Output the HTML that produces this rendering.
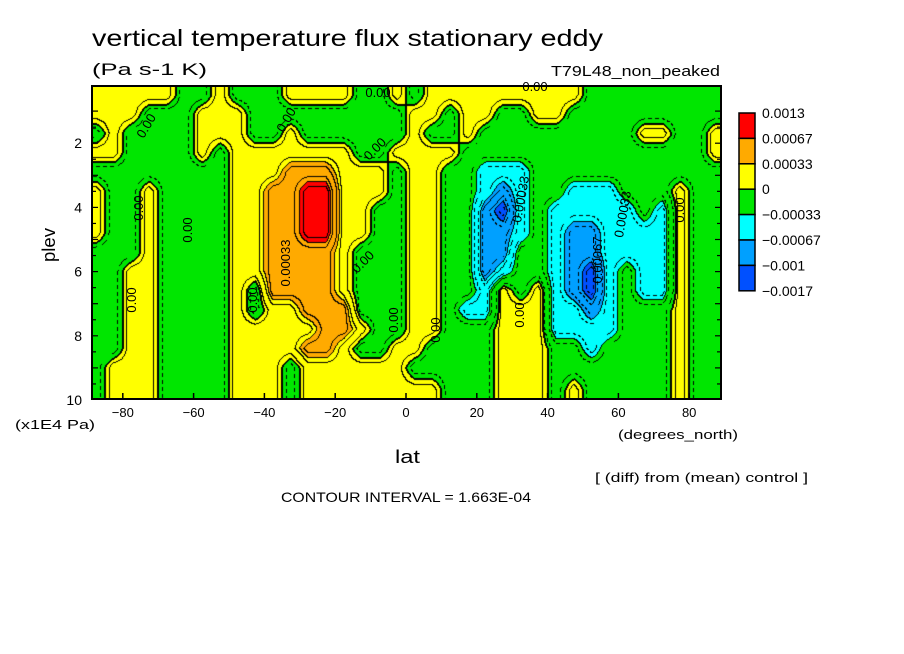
<!DOCTYPE html>
<html><head><meta charset="utf-8"><style>
html,body{margin:0;padding:0;background:#fff;width:904px;height:654px;overflow:hidden}
#wrap{position:relative;width:904px;height:654px}
#field{position:absolute;left:92px;top:86px}
svg{position:absolute;left:0;top:0}
text{font-family:"Liberation Sans","DejaVu Sans",sans-serif;fill:#000}
</style></head><body>
<div id="wrap">
<canvas id="field" width="629" height="313"></canvas>
<svg id="ov" width="904" height="654">
<text x="92" y="46" font-size="23" textLength="511" lengthAdjust="spacingAndGlyphs">vertical temperature flux stationary eddy</text>
<text x="92" y="75" font-size="17" textLength="115" lengthAdjust="spacingAndGlyphs">(Pa s-1 K)</text>
<text x="551" y="76" font-size="15" textLength="169" lengthAdjust="spacingAndGlyphs">T79L48_non_peaked</text>
<text transform="translate(55,262) rotate(-90)" font-size="18" textLength="34" lengthAdjust="spacingAndGlyphs">plev</text>
<text x="15" y="429" font-size="13" textLength="80" lengthAdjust="spacingAndGlyphs">(x1E4 Pa)</text>
<text x="618" y="439" font-size="13" textLength="120" lengthAdjust="spacingAndGlyphs">(degrees_north)</text>
<text x="395" y="463" font-size="18" textLength="25" lengthAdjust="spacingAndGlyphs">lat</text>
<text x="595" y="482" font-size="13" textLength="213" lengthAdjust="spacingAndGlyphs">[ (diff) from (mean) control ]</text>
<text x="281" y="502" font-size="14" textLength="250" lengthAdjust="spacingAndGlyphs">CONTOUR INTERVAL = 1.663E-04</text>
<g id="axes"></g>
<g id="legend"></g>
</svg>
</div>
<script>
// data
const lats=[-87.5,-82.5,-77.5,-72.5,-67.5,-62.5,-57.5,-52.5,-47.5,-42.5,-37.5,-32.5,-27.5,-22.5,-17.5,-12.5,-7.5,-2.5,2.5,7.5,12.5,17.5,22.5,27.5,32.5,37.5,42.5,47.5,52.5,57.5,62.5,67.5,72.5,77.5,82.5,87.5];
const plevs=[0.5,1.1,1.7,2.3,2.9,3.5,4.1,4.8,5.4,6.0,6.6,7.2,7.8,8.4,9.0,9.7];
// per-latitude column, class code per plev level (B<L<C<G<Y<O<R)
const fieldCols=[
"YYGYGYYYGGGGGGGG","YYYYGGGGGGGGGGYY","YYGGGGGGGYYYYYYY","YGGGGYYYYYYYYYYY",
"YGGGGGGGGGGGGGGG","GGGGGGGGGGGGGGGG","GYYYGGGGGGGGGGGG","YYYGGGGGGGGGGGGG",
"GYYYYYYYYYYYYYYY","GGGYYYYYYYGGYYYY","GGGYYOOOOOOYYYYY","YGYYOOOOOOOYYYGG",
"YGGYORRROOOOYOYY","YGGYORRROOOOOOYY","YGGYYYYYYYYOOYYY","GGGGYYYYGGGGYGYY",
"GGGGYYGGGGGGGGYY","YGGYGGGGGGGGGYYY","GYYYYYYYYYYYYYGY","YYGYYYYYYYYYYGGY",
"YGGYGGGGGGGGGGGG","YYYGGGGGGGGCGGGG","YYGGCCLLLLCCGGGG","YGGGCLBLLCYYYYYY",
"YGGGCCCCGGGYYYYY","YYGGGGGGGGYYYYYY","YYGGGGCCCCCCCGGG","YGGGGCCLLLLCCGGY",
"GGGGGCCLLBBLCCGG","GGGGGCCCCCCCCGGG","GGGGGGCCCGGGGGGG","GGYGGGGCCCCGGGGG",
"GGYGGGCCCCCGGGGG","GGGGGYYYYYYYYYYY","GGGGGGGGGGGGGGGG","GGYYGGGGGGGGGGGG"];
const classCodes=["B","L","C","G","Y","O","R"];
const classValues=[-3.5,-2.5,-1.5,-0.5,0.5,1.5,2.5];
const classColors=["#0050ff","#00a0ff","#00ffff","#00e600","#ffff00","#ffaa00","#ff0000"];
const legendLabels=["0.0013","0.00067","0.00033","0","\u22120.00033","\u22120.00067","\u22120.001","\u22120.0017"];
const xTicks=[-80,-60,-40,-20,0,20,40,60,80];
const yTicks=[2,4,6,8,10];

const X0=92,Y0=86,W=629,H=313;
function xs(lat){return 406+lat*3.54;}
function ys(p){return 400-(10-p)*32.1;}
const NS="http://www.w3.org/2000/svg";

// field
const cv=document.getElementById('field'),ctx=cv.getContext('2d');
const vals=fieldCols.map(c=>c.split('').map(ch=>classValues[classCodes.indexOf(ch)]));
const cx=lats.map(l=>xs(l)-X0), cy=plevs.map(p=>ys(p)-Y0);
function interp(arr,v){
  if(v<=arr[0])return [0,0,0];
  if(v>=arr[arr.length-1])return [arr.length-1,arr.length-1,0];
  for(let i=0;i<arr.length-1;i++){if(v<=arr[i+1])return [i,i+1,(v-arr[i])/(arr[i+1]-arr[i])];}
}
const cls=new Int8Array(W*H), half=new Int8Array(W*H);
const xi=[],yi=[];
for(let x=0;x<W;x++)xi.push(interp(cx,x+0.5));
for(let y=0;y<H;y++)yi.push(interp(cy,y+0.5));
for(let y=0;y<H;y++){const [j0,j1,ty]=yi[y];
  for(let x=0;x<W;x++){const [i0,i1,tx]=xi[x];
    const v=(vals[i0][j0]*(1-tx)+vals[i1][j0]*tx)*(1-ty)+(vals[i0][j1]*(1-tx)+vals[i1][j1]*tx)*ty;
    cls[y*W+x]=Math.max(0,Math.min(6,Math.floor(v)+4));
    half[y*W+x]=Math.floor(v*2+0.5+1e-6);}}
const img=ctx.createImageData(W,H);
const rgb=classColors.map(h=>[parseInt(h.slice(1,3),16),parseInt(h.slice(3,5),16),parseInt(h.slice(5,7),16)]);
for(let y=0;y<H;y++)for(let x=0;x<W;x++){
  const i=y*W+x,k=cls[i];let c=rgb[k];
  const r=x<W-1?cls[i+1]:k,d=y<H-1?cls[i+W]:k;
  const l=x>0?cls[i-1]:k,u=y>0?cls[i-W]:k;
  const zero=(a,b)=>(a>=4)!==(b>=4);
  const h=half[i],hr=x<W-1?half[i+1]:h,hd=y<H-1?half[i+W]:h;
  if((hr!==h||hd!==h)){
    if(k>=4||((x+y)%7)<4)c=[0,0,0];
  }
  if(r!==k||d!==k)c=[0,0,0];
  if(zero(k,l)||zero(k,u))c=[0,0,0];
  const o=i*4;img.data[o]=c[0];img.data[o+1]=c[1];img.data[o+2]=c[2];img.data[o+3]=255;}
ctx.putImageData(img,0,0);

// axes
const ax=document.getElementById('axes');
function el(tag,attrs,parent){const e=document.createElementNS(NS,tag);for(const k in attrs)e.setAttribute(k,attrs[k]);parent.appendChild(e);return e;}
const frame=el('rect',{x:X0,y:Y0,width:W,height:H,fill:'none',stroke:'#000','stroke-width':2},ax);


for(const t of xTicks){
  const tk=el('line',{x1:xs(t),x2:xs(t),y1:Y0+H,y2:Y0+H-6,stroke:'#000','stroke-width':1.5},ax);
  
  
  const tx=el('text',{x:xs(t),y:417,'font-size':13,'text-anchor':'middle'},ax);
  tx.textContent=(t<0?'\u2212':'')+Math.abs(t);
  
  
}
for(let p=1;p<=9.5;p+=0.5){
  const tk=el('line',{x1:X0,x2:X0+(p%1===0?6:4),y1:ys(p),y2:ys(p),stroke:'#000','stroke-width':1.2},ax);
  
  
  const tk2=el('line',{x1:X0+W,x2:X0+W-(p%1===0?6:4),y1:ys(p),y2:ys(p),stroke:'#000','stroke-width':1.2},ax);
  
  
}
for(const t of yTicks){
  const tx=el('text',{x:82,y:ys(t)+5,'font-size':14,'text-anchor':'end'},ax);
  tx.textContent=t;
  
  
}
// contour labels
const labels=[[378,97,'0.00',0],[535,91,'0.00',0],[150,128,'0.00',-60],[290,122,'0.00',-60],[378,152,'0.00',-45],[143,208,'0.00',-90],[192,230,'0.00',-90],[290,263,'0.00033',-90],[136,300,'0.00',-90],[257,300,'0.00',-90],[366,265,'0.00',-45],[398,320,'0.00',-90],[440,330,'0.00',-90],[524,315,'0.00',-90],[525,200,'0.00033',-80],[627,215,'0.00033',-80],[602,260,'0.00067',-90],[684,210,'0.00',-90]];
for(const [x,y,s,r] of labels){
  const t=el('text',{x:x,y:y,'font-size':13,'text-anchor':'middle',transform:`rotate(${r},${x},${y})`},ax);
  t.textContent=s;
  
  
}
// legend
const lg=document.getElementById('legend');
const LX=739,LT=113,LH=25.4;
for(let i=0;i<7;i++){
  const r=el('rect',{x:LX,y:LT+i*LH,width:16,height:LH,fill:classColors[6-i],stroke:'#000','stroke-width':1.5},lg);
  
  
}
legendLabels.forEach((s,i)=>{
  const t=el('text',{x:762,y:LT+i*LH+5,'font-size':14},lg);
  t.textContent=s;
  
  
});
</script>
</body></html>
